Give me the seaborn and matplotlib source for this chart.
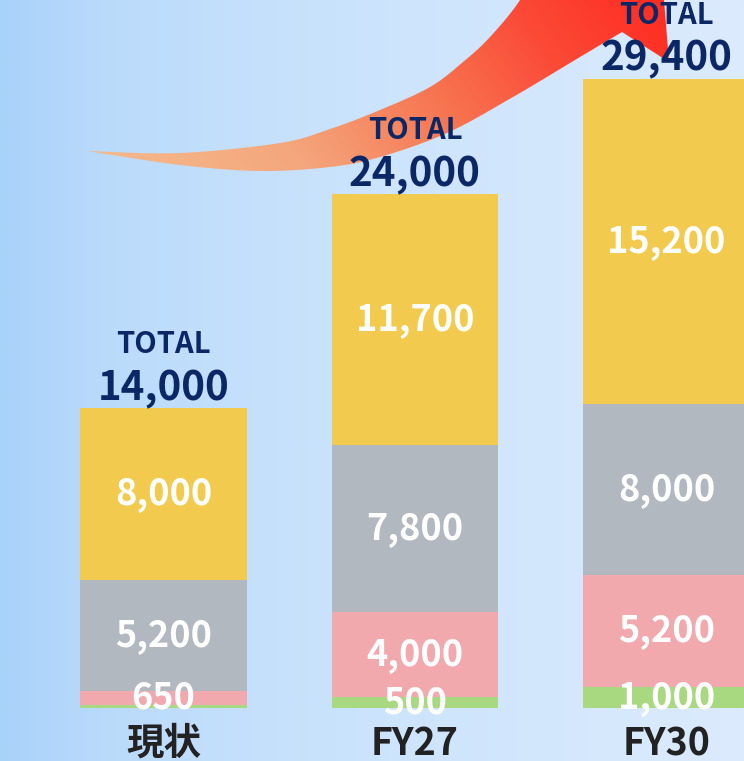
import numpy as np
import pandas as pd
import seaborn as sns
import matplotlib.pyplot as plt
from matplotlib.colors import LinearSegmentedColormap
from matplotlib.path import Path
from matplotlib.patches import PathPatch

# chart data
categories = ["現状", "FY27", "FY30"]
green = [150, 500, 1000]
pink = [650, 4000, 5200]
gray = [5200, 7800, 8000]
yellow = [8000, 11700, 15200]
totals = [14000, 24000, 29400]
# which segment values get a label (現状 green is too thin)
show_green = [False, True, True]

layers = ["green", "pink", "gray", "yellow"]
colors = {"green": "#A8D880", "pink": "#F2A9AE", "gray": "#B1B8C0", "yellow": "#F2CB4E"}

W, H = 744, 761
PX = 0.72  # points per pixel at dpi 100
BAR_W = 0.664


def catmull_rom(pts, n=24):
    # smooth curve through the given points
    p = np.asarray(pts, dtype=float)
    p = np.vstack([p[0], p, p[-1]])
    out = []
    for i in range(1, len(p) - 2):
        p0, p1, p2, p3 = p[i - 1], p[i], p[i + 1], p[i + 2]
        t = np.linspace(0, 1, n, endpoint=False)[:, None]
        out.append(0.5 * ((2 * p1) + (-p0 + p2) * t
                          + (2 * p0 - 5 * p1 + 4 * p2 - p3) * t ** 2
                          + (-p0 + 3 * p1 - 3 * p2 + p3) * t ** 3))
    out.append(p[-2][None, :])
    return np.vstack(out)


df = pd.DataFrame({"category": categories, "green": green, "pink": pink,
                   "gray": gray, "yellow": yellow})
cum = df[layers].cumsum(axis=1)

sns.set_style("white")
plt.rcParams["font.family"] = ["Noto Sans CJK JP", "DejaVu Sans"]

fig = plt.figure(figsize=(W / 100, H / 100), dpi=100)

# background gradient + decorative arrow (pixel coordinates)
bg = fig.add_axes([0, 0, 1, 1], zorder=0)
bg_cmap = LinearSegmentedColormap.from_list(
    "bg", [(0, "#A9D2FA"), (0.15, "#BBDBFB"), (0.45, "#CAE3FC"), (1, "#DCEBFD")])
bg.imshow(np.linspace(0, 1, 512)[None, :], cmap=bg_cmap, extent=[0, W, H, 0], aspect="auto")

arrow_cmap = LinearSegmentedColormap.from_list(
    "arrow", [(0, "#F5BA8C"), (0.3, "#F4A67C"), (0.57, "#F77350"),
              (0.77, "#FB4A37"), (1, "#FF2A20")])
yy, xx = np.mgrid[0:H, 0:W]
t = np.clip(((xx - 87) + 0.7 * (151 - yy)) / 690, 0, 1)
img = bg.imshow(t, cmap=arrow_cmap, vmin=0, vmax=1, extent=[0, W, H, 0], aspect="auto")

lower = catmull_rom([(87, 151), (180, 165), (260, 171), (330, 167), (380, 157),
                     (447, 133), (513, 97), (580, 57), (622, 32)])
upper = catmull_rom([(87, 151), (180, 153), (280, 143), (330, 129), (380, 110),
                     (430, 87), (463, 62), (490, 37), (520, 0), (540, -40)])
head = np.array([(669, 62), (664, 0), (662, -40)])
verts = np.vstack([lower, head, upper[::-1]])
arrow = PathPatch(Path(verts, closed=True), transform=bg.transData,
                  facecolor="none", edgecolor="none")
bg.add_patch(arrow)
img.set_clip_path(arrow)
bg.set_xlim(0, W)
bg.set_ylim(H, 0)
bg.axis("off")

# stacked bars
ax = fig.add_axes([0, 0, 1, 1], zorder=1)
ax.set_facecolor("none")
for layer in reversed(layers):
    sns.barplot(data=df.assign(top=cum[layer]), x="category", y="top",
                color=colors[layer], width=BAR_W, saturation=1, linewidth=0, ax=ax)

for i in range(len(categories)):
    for layer in layers:
        v = df.loc[i, layer]
        if layer == "green" and not show_green[i]:
            continue
        y = cum.loc[i, layer] - v / 2
        ax.text(i, y, f"{v:,}", ha="center", va="center", color="white",
                fontsize=26, fontweight="bold")
    ax.annotate(f"{totals[i]:,}", xy=(i, totals[i]), xytext=(0, 8 * PX),
                textcoords="offset points", ha="center", va="baseline",
                color="#0B2766", fontsize=29, fontweight="bold")
    ax.annotate("TOTAL", xy=(i, totals[i]), xytext=(0, 55 * PX),
                textcoords="offset points", ha="center", va="baseline",
                color="#0B2766", fontsize=21, fontweight="bold")
    ax.annotate(categories[i], xy=(i, 0), xytext=(0, -47 * PX),
                textcoords="offset points", ha="center", va="baseline",
                color="#222222", fontsize=27, fontweight="bold")

s = 0.02141  # px per unit
ax.set_ylim(-(H - 708) / s, 708 / s)
ax.set_xlim(-163.5 / 251.5, (W - 163.5) / 251.5)
ax.axis("off")

fig.savefig("out.png", dpi=100)
plt.close(fig)
